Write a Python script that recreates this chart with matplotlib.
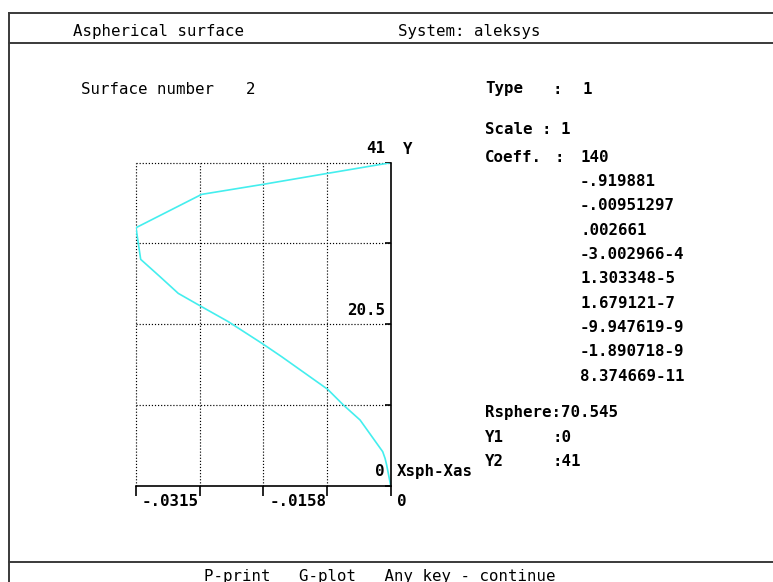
import matplotlib
matplotlib.use("Agg")
import matplotlib.pyplot as plt

# curve Xsph-Xas (x) against Y
dx = [0, -0.00779, -0.01579, -0.02338, -0.0315, -0.03092, -0.02853, -0.02627,
      -0.02338, -0.02008, -0.01579, -0.01348, -0.00779, -0.00585, -0.00379,
      -0.00099, -0.0007, -0.0005, 0]
yy = [41, 39.65, 38.25, 36.98, 32.75, 28.73, 26.53, 24.41, 22.72, 20.82,
      17.98, 16.37, 12.23, 10.24, 8.34, 4.32, 3.48, 2.63, 0]

# axis values
xmin = -0.0315
ymax = 41
xgrid = [-0.0315, -0.023625, -0.01575, -0.007875, 0]
ygrid = [0, 10.25, 20.5, 30.75, 41]
xlabels = [(-0.0315, "-.0315"), (-0.01575, "-.0158"), (0, "0")]
ylabels = [(41, "41"), (20.5, "20.5"), (0, "0")]

# right panel
coeffs = ["140", "-.919881", "-.00951297", ".002661", "-3.002966-4",
          "1.303348-5", "1.679121-7", "-9.947619-9", "-1.890718-9",
          "8.374669-11"]
surface_no = "2"
surf_type = "1"
scale = "1"
rsphere = "70.545"
y1 = "0"
y2 = "41"

W, H = 773, 582
mono = "DejaVu Sans Mono"
fs = 11.3

fig = plt.figure(figsize=(W / 100, H / 100), dpi=100)
fig.patch.set_facecolor("white")

# fondo de pantalla en pixeles
bg = fig.add_axes([0, 0, 1, 1])
bg.set_xlim(0, W)
bg.set_ylim(H, 0)
bg.axis("off")

frame = "#3a3a3a"
bg.plot([9.3, W], [12.7, 12.7], color=frame, lw=1.4)
bg.plot([9.3, W], [42.7, 42.7], color=frame, lw=1.4)
bg.plot([9.3, W], [561.5, 561.5], color=frame, lw=1.4)
bg.plot([9.3, 9.3], [12.7, H], color=frame, lw=1.4)


def txt(x, y, s, bold=False):
    bg.text(x, y, s, ha="left", va="center", family=mono, fontsize=fs,
            fontweight="bold" if bold else "normal", color="black")


txt(73, 31.5, "Aspherical surface")
txt(398, 31.5, "System: aleksys")
txt(81, 89, "Surface number")
txt(246, 89, surface_no)

txt(485, 89, "Type", bold=True)
txt(553, 89, ":", bold=True)
txt(583, 89, surf_type, bold=True)
txt(485, 130, "Scale : " + scale, bold=True)
txt(485, 157, "Coeff.", bold=True)
txt(555, 157, ":", bold=True)
for i, c in enumerate(coeffs):
    txt(580, 157 + i * 24.35, c, bold=True)

txt(485, 413, "Rsphere:" + rsphere, bold=True)
txt(485, 438, "Y1", bold=True)
txt(553, 438, ":" + y1, bold=True)
txt(485, 461, "Y2", bold=True)
txt(553, 461, ":" + y2, bold=True)

txt(204, 576, "P-print   G-plot   Any key - continue")

# grafico
ax = fig.add_axes([136 / W, (H - 485.7) / H, 254.7 / W, 323 / H])
ax.set_xlim(xmin, 0)
ax.set_ylim(0, ymax)
ax.patch.set_alpha(0)

dots = (0, (1, 1.6))
for v in xgrid[:-1]:
    ax.axvline(v, color="black", lw=0.85, linestyle=dots, clip_on=False)
for v in ygrid[1:]:
    ax.axhline(v, color="black", lw=0.85, linestyle=dots, clip_on=False)

ax.plot(dx, yy, color="#44eeee", lw=1.2)

for s in ["top", "left"]:
    ax.spines[s].set_visible(False)
for s in ["right", "bottom"]:
    ax.spines[s].set_color("black")
    ax.spines[s].set_linewidth(1.2)

ax.set_xticks(xgrid)
ax.set_yticks(ygrid)
ax.yaxis.tick_right()
ax.tick_params(axis="x", direction="out", length=7, width=1.2,
               labelbottom=False)
ax.tick_params(axis="y", direction="in", length=4, width=1.2,
               labelright=False, labelleft=False)

for v, s in xlabels:
    ax.annotate(s, (v, 0), xytext=(6, -16), textcoords="offset pixels",
                ha="left", va="center", family=mono, fontsize=fs,
                fontweight="bold", annotation_clip=False)
for v, s in ylabels:
    ax.annotate(s, (0, v), xytext=(-6, 14), textcoords="offset pixels",
                ha="right", va="center", family=mono, fontsize=fs,
                fontweight="bold", annotation_clip=False)
ax.annotate("Y", (0, ymax), xytext=(12, 13), textcoords="offset pixels",
            ha="left", va="center", family=mono, fontsize=fs,
            fontweight="bold", annotation_clip=False)
ax.annotate("Xsph-Xas", (0, 0), xytext=(6, 14), textcoords="offset pixels",
            ha="left", va="center", family=mono, fontsize=fs,
            fontweight="bold", annotation_clip=False)

fig.savefig("out.png", dpi=100)
